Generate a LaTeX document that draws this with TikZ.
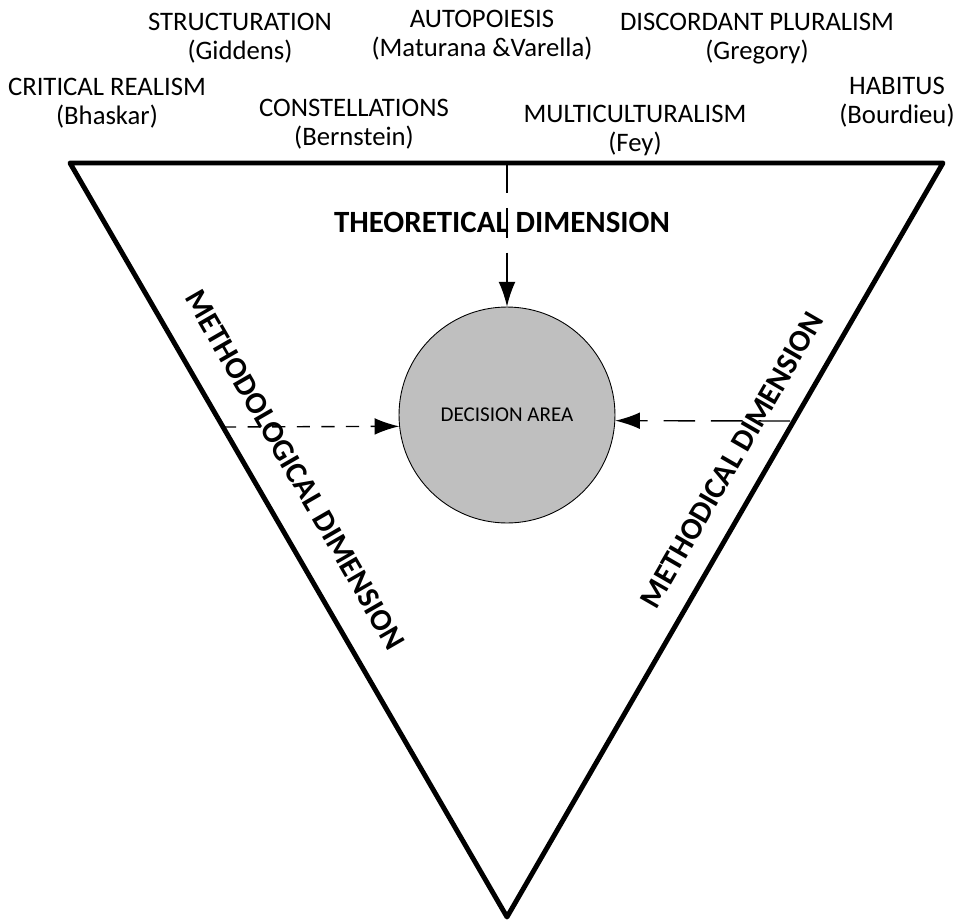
\documentclass[tikz,border=0pt]{standalone}
\usepackage{fontspec}
\setmainfont{Carlito}
\usepackage{tikz}
\usetikzlibrary{arrows.meta}

\begin{document}
\begin{tikzpicture}[x=0.02cm, y=-0.02cm,
        theory/.style={align=center, inner sep=0pt, font=\fontsize{15.2}{16.5}\selectfont},
        dimension/.style={inner sep=0pt, font=\fontsize{17.6}{20}\selectfont\bfseries},
        feed/.style={-{Latex[length=14pt,width=9.5pt]}, line width=0.8pt}]
        \useasboundingbox (0,0) rectangle (961,920);
        \coordinate (tl) at (70,163);
        \coordinate (tr) at (943,163);
        \coordinate (bt) at (507,917);
        \coordinate (top) at (507,163);
        \coordinate (left) at (223,427);
        \coordinate (right) at (790,421);
        \draw[line width=2.8pt, line join=round] (tl) -- (tr) -- (bt) -- cycle;
        \node[circle, draw, fill=gray!50, line width=0.5pt, minimum size=4.32cm, inner sep=0pt, font=\fontsize{12}{14}\selectfont] (area) at (507,415) {DECISION AREA};
        \node[theory] (realism) at (107,103) {CRITICAL REALISM\\(Bhaskar)};
        \node[theory] (structuration) at (240,38) {STRUCTURATION\\(Giddens)};
        \node[theory] (autopoiesis) at (482,35) {AUTOPOIESIS\\(Maturana \&Varella)};
        \node[theory] (pluralism) at (757,39) {DISCORDANT PLURALISM\\(Gregory)};
        \node[theory] (constellations) at (354,124) {CONSTELLATIONS\\(Bernstein)};
        \node[theory] (multiculturalism) at (635,130) {MULTICULTURALISM\\(Fey)};
        \node[theory] (habitus) at (897,102) {HABITUS\\(Bourdieu)};
        \draw[feed, dash pattern=on 17pt off 8.5pt] (top) -- (area.north);
        \draw[feed, dash pattern=on 7.5pt off 6.5pt] (left) -- (area.186);
        \draw[feed, dash pattern=on 18pt off 9pt] (right) -- (area.-3);
        \node[dimension] (theoretical) at (502,222) {THEORETICAL DIMENSION};
        \node[dimension, rotate=-60] (methodological) at (295,470) {METHODOLOGICAL DIMENSION};
        \node[dimension, rotate=60] (methodical) at (732,460) {METHODICAL DIMENSION};
\end{tikzpicture}
\end{document}
